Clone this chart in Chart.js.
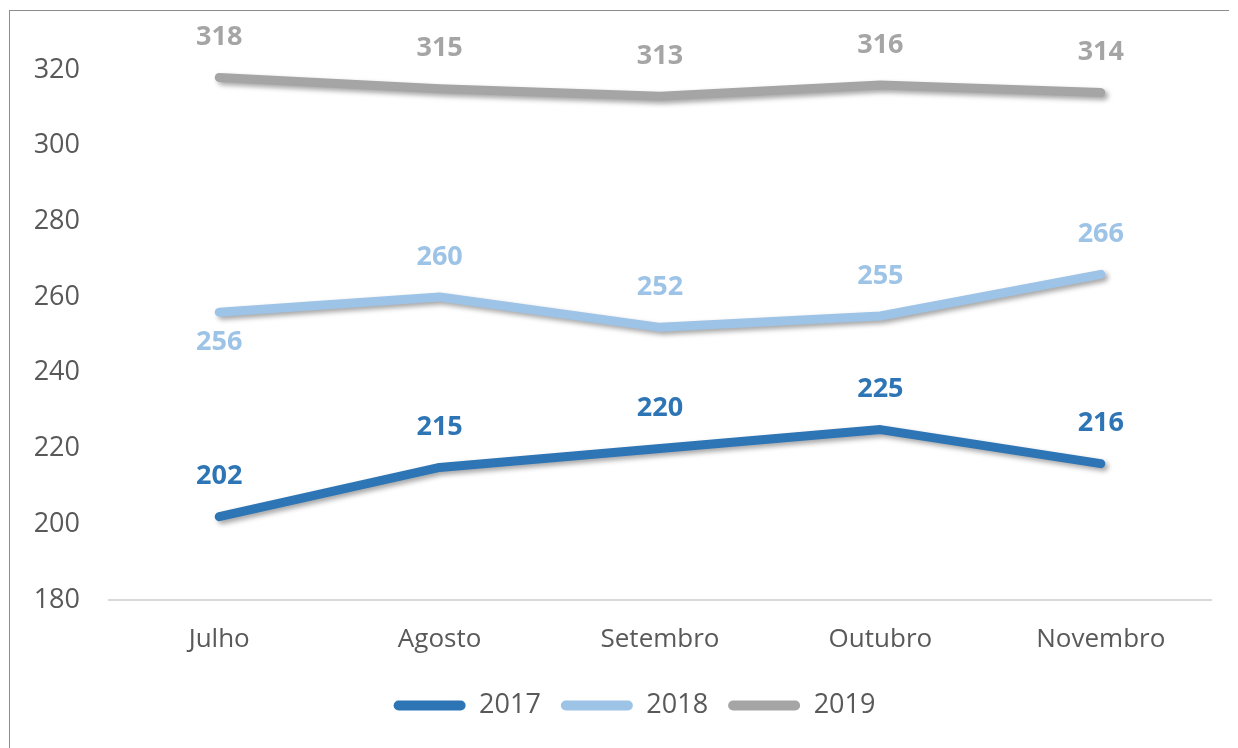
<!DOCTYPE html>
<html>
<head>
<meta charset="utf-8">
<script src="https://cdn.jsdelivr.net/npm/chart.js@4.4.1/dist/chart.umd.min.js"></script>
<style>
  html, body { margin: 0; padding: 0; background: #fff; }
  #box {
    position: absolute; left: 9px; top: 10px;
    width: 1219px; height: 740px;
    border: 1.5px solid #8c8c8c; border-right: none; border-bottom: none;
    background: #fff;
  }
  #chart { display: block; }
</style>
</head>
<body>
<div id="box"><canvas id="chart" width="1219" height="738"></canvas></div>
<script>
// chart data
const months = ['Julho', 'Agosto', 'Setembro', 'Outubro', 'Novembro'];
const y2017 = [202, 215, 220, 225, 216];
const y2018 = [256, 260, 252, 255, 266];
const y2019 = [318, 315, 313, 316, 314];
const yTicks = [180, 200, 220, 240, 260, 280, 300, 320];
// where each value label sits: 1 = above the point, -1 = below
const pos2017 = [1, 1, 1, 1, 1];
const pos2018 = [-1, 1, 1, 1, 1];
const pos2019 = [1, 1, 1, 1, 1];

const FONT = "'Open Sans', 'Noto Sans', sans-serif";
const TXT = '#595959';

function mk_ds(label, data, color, labelColor, pos) {
    return {
        label: label,
        data: data,
        borderColor: color,
        backgroundColor: color,
        borderWidth: 9,
        borderCapStyle: 'round',
        borderJoinStyle: 'round',
        pointRadius: 0,
        tension: 0,
        fill: false,
        labelColor: labelColor,
        labelPos: pos,
    };
}

// soft drop shadow under every line, like the Excel original
const shadowPlugin = {
    id: 'shadow',
    beforeDatasetDraw(chart) {
        let ctx = chart.ctx;
        ctx.save();
        ctx.shadowColor = 'rgba(0,0,0,0.35)';
        ctx.shadowBlur = 5;
        ctx.shadowOffsetX = 3;
        ctx.shadowOffsetY = 3;
    },
    afterDatasetDraw(chart) {
        chart.ctx.restore();
    }
};

// the legend in the original sits a bit right of centre
const legendShift = {
    id: 'legendShift',
    afterLayout(chart) {
        let lg = chart.legend;
        if (lg) {
            lg.left += 24;
            lg.right += 24;
        }
    }
};

// value labels above / below the points
const valueLabels = {
    id: 'valueLabels',
    afterDatasetsDraw(chart) {
        let ctx = chart.ctx;
        ctx.save();
        ctx.font = 'bold 27px ' + FONT;
        ctx.textAlign = 'center';
        ctx.textBaseline = 'middle';
        chart.data.datasets.forEach((ds, i) => {
            let meta = chart.getDatasetMeta(i);
            meta.data.forEach((pt, j) => {
                let up = ds.labelPos[j] > 0;
                ctx.fillStyle = ds.labelColor;
                ctx.fillText(String(ds.data[j]), pt.x, pt.y + (up ? -40 : 30));
            });
        });
        ctx.restore();
    }
};

var ctx = document.getElementById('chart');
var chart = new Chart(ctx, {
    type: 'line',
    data: {
        labels: months,
        datasets: [
            mk_ds('2017', y2017, '#2E75B6', '#2E75B6', pos2017),
            mk_ds('2018', y2018, '#9DC3E6', '#9DC3E6', pos2018),
            mk_ds('2019', y2019, '#A5A5A5', '#A5A5A5', pos2019),
        ],
    },
    options: {
        responsive: false,
        animation: false,
        layout: { padding: { top: 0, right: 18, left: 0, bottom: 20 } },
        scales: {
            x: {
                offset: true,
                grid: { display: false, drawTicks: false },
                border: { display: true, color: '#D9D9D9', width: 2 },
                ticks: { color: TXT, font: { family: FONT, size: 26 }, padding: 24 },
                afterFit(scale) { scale.height = 72; },
            },
            y: {
                min: 180,
                max: 323.6,
                grid: { display: false, drawTicks: false },
                border: { display: false },
                ticks: { color: TXT, font: { family: FONT, size: 27 }, padding: 29 },
                afterBuildTicks(scale) {
                    scale.ticks = yTicks.map((v) => ({ value: v }));
                },
                afterFit(scale) { scale.width = 99; },
            },
        },
        plugins: {
            legend: {
                position: 'bottom',
                labels: {
                    color: TXT,
                    font: { family: FONT, size: 27 },
                    boxWidth: 72,
                    boxHeight: 10,
                    useBorderRadius: true,
                    borderRadius: 5,
                    padding: 20,
                    generateLabels(chart) {
                        return chart.data.datasets.map((ds, i) => ({
                            text: ds.label,
                            fillStyle: ds.borderColor,
                            strokeStyle: ds.borderColor,
                            lineWidth: 0,
                            fontColor: TXT,
                            borderRadius: 5,
                            datasetIndex: i,
                            hidden: false,
                        }));
                    },
                },
            },
            tooltip: { enabled: false },
        },
    },
    plugins: [shadowPlugin, valueLabels, legendShift],
});
</script>
</body>
</html>
